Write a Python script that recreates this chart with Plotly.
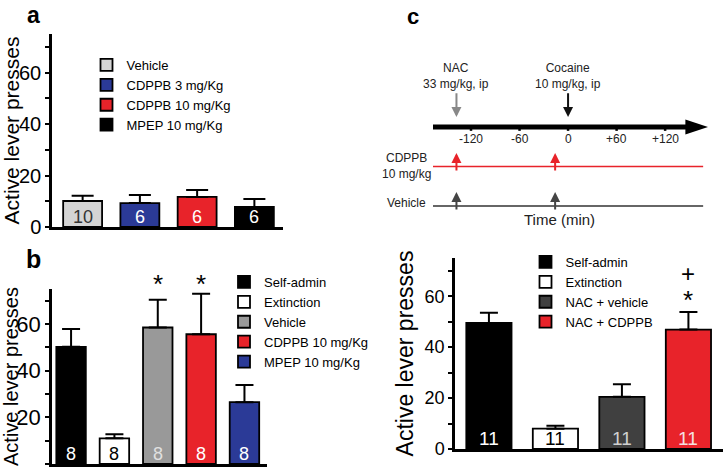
import plotly.graph_objects as go

FONT = "Liberation Sans, Arial, sans-serif"

# ---------------- data ----------------
# panel a
a_groups = ["Vehicle", "CDPPB 3 mg/Kg", "CDPPB 10 mg/Kg", "MPEP 10 mg/Kg"]
a_means = [10.1, 9.3, 11.7, 7.8]
a_err = [2.0, 3.1, 2.7, 3.1]
a_n = ["10", "6", "6", "6"]

# panel b
b_groups = ["Self-admin", "Extinction", "Vehicle", "CDPPB 10 mg/Kg", "MPEP 10 mg/Kg"]
b_means = [50.2, 11.0, 58.5, 55.6, 26.5]
b_err = [7.7, 1.8, 11.9, 17.4, 7.4]
b_n = ["8", "8", "8", "8", "8"]
b_sig = ["", "", "*", "*", ""]

# panel c
c_groups = ["Self-admin", "Extinction", "NAC + vehicle", "NAC + CDPPB"]
c_means = [49.5, 8.0, 20.5, 46.9]
c_err = [4.0, 1.1, 4.9, 6.9]
c_n = ["11", "11", "11", "11"]
c_sig = [[], [], [], ["+", "*"]]

# timeline (minutes)
t_ticks = [-120, -60, 0, 60, 120]
t_ticklabels = ["-120", "-60", "0", "+60", "+120"]
t_nac = -138
t_cocaine = 0
t_treat = [-138, -16]

yticks = [0, 10, 20, 30, 40, 50, 60, 70]
yticklabels = ["0", "", "20", "", "40", "", "60", ""]

# ---------------- styles ----------------
a_colors = ["#d4d4d4", "#2b3a97", "#e8232a", "#000000"]
a_ncol = ["#333333", "#ffffff", "#ffffff", "#ffffff"]
b_colors = ["#000000", "#ffffff", "#999999", "#e8232a", "#2b3a97"]
b_ncol = ["#ffffff", "#000000", "#e0e0e0", "#ffffff", "#ffffff"]
c_colors = ["#000000", "#ffffff", "#404040", "#e8232a"]
c_ncol = ["#ffffff", "#000000", "#d0d0d0", "#f5e0e0"]

fig = go.Figure()


def add_panel(groups, means, errs, colors, xa, ya, legend, capw):
    for i, (g, m, e, col) in enumerate(zip(groups, means, errs, colors)):
        fig.add_trace(go.Bar(
            x=[i], y=[m], name=g, width=0.68,
            marker=dict(color=col, line=dict(color="#000000", width=1.8)),
            error_y=dict(type="data", symmetric=False, array=[e], arrayminus=[0],
                         color="#000000", thickness=2, width=capw),
            xaxis=xa, yaxis=ya, legend=legend, showlegend=True, hoverinfo="skip",
        ))


add_panel(a_groups, a_means, a_err, a_colors, "x", "y", "legend", 11)
add_panel(b_groups, b_means, b_err, b_colors, "x2", "y2", "legend2", 9)
add_panel(c_groups, c_means, c_err, c_colors, "x3", "y3", "legend3", 9)

annotations = []


def n_labels(ns, cols, xr, yr, size, shift):
    for i, (n, c) in enumerate(zip(ns, cols)):
        annotations.append(dict(x=i, y=0, xref=xr, yref=yr, text=n, showarrow=False,
                                yanchor="middle", yshift=shift,
                                font=dict(size=size, color=c, family=FONT)))


n_labels(a_n, a_ncol, "x", "y", 18, 10)
n_labels(b_n, b_ncol, "x2", "y2", 18, 10)
n_labels(c_n, c_ncol, "x3", "y3", 19, 11)

for i, s in enumerate(b_sig):
    if s:
        annotations.append(dict(x=i, y=75, xref="x2", yref="y2", text=s, showarrow=False,
                                yanchor="middle", yshift=5,
                                font=dict(size=26, color="#000", family=FONT)))

for i, marks in enumerate(c_sig):
    if marks:
        txt = "<br>".join("<span style='font-size:%dpx'>%s</span>" % (24 if m == "+" else 26, m)
                          for m in marks)
        annotations.append(dict(x=i, y=63.4, xref="x3", yref="y3", text=txt, showarrow=False,
                                yanchor="middle", align="center",
                                font=dict(size=21, color="#000", family=FONT)))

# panel letters
for txt, x, ytop, size in [("a", 33, 0, 23), ("b", 33, 243, 25), ("c", 413, 2, 22)]:
    annotations.append(dict(x=x / 725, y=1 - ytop / 476, xref="paper", yref="paper", text="<b>%s</b>" % txt,
                            showarrow=False, xanchor="center", yanchor="top",
                            font=dict(size=size, color="#000", family=FONT)))

# ---------------- timeline ----------------
shapes = []
main_y, red_y, gray_y = 0, -1.0, -2.0
xr4, yr4 = "x4", "y4"
t_left, t_right = -167, 173
head = 28
shapes.append(dict(type="line", xref=xr4, yref=yr4, x0=t_left, x1=t_right - head + 2, y0=main_y, y1=main_y,
                   line=dict(color="#000", width=5)))
shapes.append(dict(type="path", xref=xr4, yref=yr4,
                   path="M %f,%f L %f,%f L %f,%f Z" % (t_right - head, 0.19, t_right, 0, t_right - head, -0.19),
                   fillcolor="#000", line=dict(color="#000", width=0)))
for t in t_ticks:
    shapes.append(dict(type="line", xref=xr4, yref=yr4, x0=t, x1=t, y0=main_y, y1=main_y - 0.1,
                       line=dict(color="#000", width=2.5)))
for t, lab in zip(t_ticks, t_ticklabels):
    annotations.append(dict(x=t, y=-0.3, xref=xr4, yref=yr4, text=lab, showarrow=False,
                            font=dict(size=12, color="#222", family=FONT)))

shapes.append(dict(type="line", xref=xr4, yref=yr4, x0=t_left, x1=t_right - 6, y0=red_y, y1=red_y,
                   line=dict(color="#e8232a", width=1.5)))
shapes.append(dict(type="line", xref=xr4, yref=yr4, x0=t_left, x1=t_right - 6, y0=gray_y, y1=gray_y,
                   line=dict(color="#666666", width=2)))

# drug arrows
annotations.append(dict(x=t_nac, y=0.25, ax=t_nac, ay=0.89, xref=xr4, yref=yr4, axref=xr4, ayref=yr4,
                        text="", showarrow=True, arrowhead=2, arrowsize=1, arrowwidth=2, arrowcolor="#888888"))
annotations.append(dict(x=t_cocaine, y=0.25, ax=t_cocaine, ay=0.89, xref=xr4, yref=yr4, axref=xr4, ayref=yr4,
                        text="", showarrow=True, arrowhead=2, arrowsize=1, arrowwidth=2, arrowcolor="#111111"))
for t in t_treat:
    annotations.append(dict(x=t, y=-0.66, ax=t, ay=-1.14, xref=xr4, yref=yr4, axref=xr4, ayref=yr4,
                            text="", showarrow=True, arrowhead=2, arrowsize=1, arrowwidth=2, arrowcolor="#e8232a"))
    annotations.append(dict(x=t, y=-1.65, ax=t, ay=-2.13, xref=xr4, yref=yr4, axref=xr4, ayref=yr4,
                            text="", showarrow=True, arrowhead=2, arrowsize=1, arrowwidth=2, arrowcolor="#444444"))

annotations.append(dict(x=t_nac, y=1.28, xref=xr4, yref=yr4, text="NAC<br>33 mg/kg, ip", showarrow=False,
                        font=dict(size=12, color="#222", family=FONT)))
annotations.append(dict(x=t_cocaine, y=1.28, xref=xr4, yref=yr4, text="Cocaine<br>10 mg/kg, ip", showarrow=False,
                        font=dict(size=12, color="#222", family=FONT)))
annotations.append(dict(x=t_left + 1, y=red_y, xref=xr4, yref=yr4, text="CDPPB<br>10 mg/kg", showarrow=False,
                        xanchor="right", xshift=-1, align="center", font=dict(size=12, color="#222", family=FONT)))
annotations.append(dict(x=t_left + 1, y=gray_y + 0.08, xref=xr4, yref=yr4, text="Vehicle", showarrow=False,
                        xanchor="right", xshift=-6, font=dict(size=12, color="#222", family=FONT)))
annotations.append(dict(x=-11, y=-2.35, xref=xr4, yref=yr4, text="Time (min)", showarrow=False,
                        font=dict(size=15, color="#222", family=FONT)))


def yax(domain, tick_size, title_size, standoff):
    return dict(domain=domain, range=[0, 75], tickvals=yticks, ticktext=yticklabels,
                ticks="outside", ticklen=4, tickwidth=2, tickcolor="#000", automargin=False,
                showline=True, linewidth=2.5, linecolor="#000", showgrid=False, zeroline=False,
                tickfont=dict(size=tick_size, color="#000", family=FONT),
                title=dict(text="Active lever presses", standoff=standoff,
                           font=dict(size=title_size, color="#000", family=FONT)))


def xax(domain, rng, anchor):
    return dict(domain=domain, range=rng, anchor=anchor, showline=True, linewidth=2.5, linecolor="#000",
                showticklabels=False, ticks="", showgrid=False, zeroline=False, automargin=False)


leg = dict(font=dict(size=13, color="#000", family=FONT), bgcolor="rgba(0,0,0,0)",
           xanchor="left", yanchor="top", tracegroupgap=0, itemclick=False)

fig.update_layout(
    width=725, height=476, margin=dict(l=0, r=0, t=0, b=0, autoexpand=False),
    paper_bgcolor="white", plot_bgcolor="white", barmode="overlay",
    font=dict(family=FONT), hovermode=False,
    xaxis=xax([52 / 725, 283 / 725], [-0.535, 3.5], "y"),
    yaxis=dict(yax([1 - 227 / 476, 1 - 34 / 476], 20, 21, 5), anchor="x"),
    xaxis2=xax([52 / 725, 267 / 725], [-0.44, 4.52], "y2"),
    yaxis2=dict(yax([1 - 464 / 476, 1 - 289 / 476], 22, 20, 3), anchor="x2"),
    xaxis3=xax([455 / 725, 723 / 725], [-0.51, 3.52], "y3"),
    yaxis3=dict(yax([1 - 449 / 476, 1 - 258 / 476], 18, 23, 5), anchor="x3"),
    xaxis4=dict(domain=[433 / 725, 708 / 725], range=[t_left, t_right], visible=False, anchor="y4",
                automargin=False),
    yaxis4=dict(domain=[1 - 230 / 476, 1 - 40 / 476], range=[-2.61, 2.2], visible=False, anchor="x4",
                automargin=False),
    legend=dict(leg, x=(108.5 - 22) / 725, y=1 - 50 / 476),
    legend2=dict(leg, x=(246 - 22) / 725, y=1 - 267 / 476),
    legend3=dict(leg, x=(547.5 - 22) / 725, y=1 - 247 / 476),
    annotations=annotations, shapes=shapes,
)

# remove the browser's default 8px body margin so the 725x476 figure fills the window
fig.write_html("out.html", config={"displayModeBar": False},
               post_script="document.body.style.margin='0px';")
